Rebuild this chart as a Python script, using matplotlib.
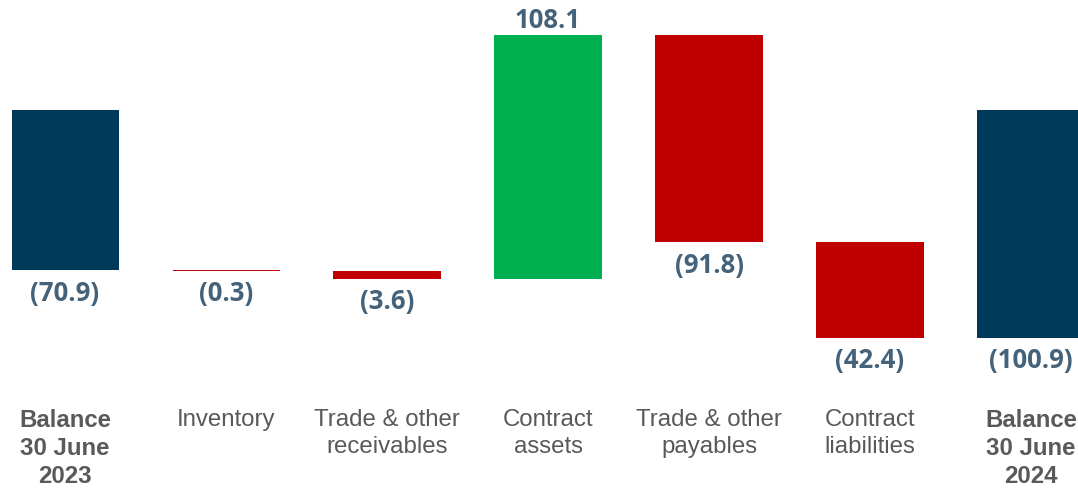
import matplotlib.pyplot as plt

# データ
categories = ["Balance\n30 June\n2023", "Inventory", "Trade & other\nreceivables",
              "Contract\nassets", "Trade & other\npayables", "Contract\nliabilities",
              "Balance\n30 June\n2024"]
changes = [-70.9, -0.3, -3.6, 108.1, -91.8, -42.4, -100.9]
is_total = [True, False, False, False, False, False, True]
labels = ["(70.9)", "(0.3)", "(3.6)", "108.1", "(91.8)", "(42.4)", "(100.9)"]

NAVY = "#003A5A"
GREEN = "#00B050"
RED = "#C00000"
LABEL_COLOR = "#44627A"
CAT_COLOR = "#595959"

fig = plt.figure(figsize=(10.78, 4.88), dpi=100)
ax = fig.add_axes([0, 0, 1, 1])

# 滝グラフの計算
running = 0.0
for i, (val, total) in enumerate(zip(changes, is_total)):
    if total:
        bottom, top = 0.0, val
        color = NAVY
        running = val
    else:
        bottom = running
        top = running + val
        running = top
        color = GREEN if val > 0 else RED
    lo, hi = min(bottom, top), max(bottom, top)
    ax.bar(i, hi - lo, bottom=lo, width=0.665, color=color, linewidth=0)
    if val > 0:
        ax.annotate(labels[i], (i, hi), xytext=(0, 0.5), textcoords="offset points",
                    ha="center", va="bottom", fontsize=18.5, fontweight="bold",
                    family="Open Sans", color=LABEL_COLOR)
    else:
        ax.annotate(labels[i], (i, lo), xytext=(0, -7), textcoords="offset points",
                    ha="center", va="top", fontsize=18.5, fontweight="bold",
                    family="Open Sans", color=LABEL_COLOR)

# カテゴリラベル
for i, (cat, total) in enumerate(zip(categories, is_total)):
    ax.text(i, -132.5, cat, ha="center", va="top", fontsize=17.3,
            family="Liberation Sans", color=CAT_COLOR,
            fontweight="bold" if total else "normal", linespacing=1.27)

ax.set_xlim(-0.404, 6.292)
ax.set_ylim(-167.5, 48.7)
ax.axis("off")

fig.savefig("out.png", dpi=100)
